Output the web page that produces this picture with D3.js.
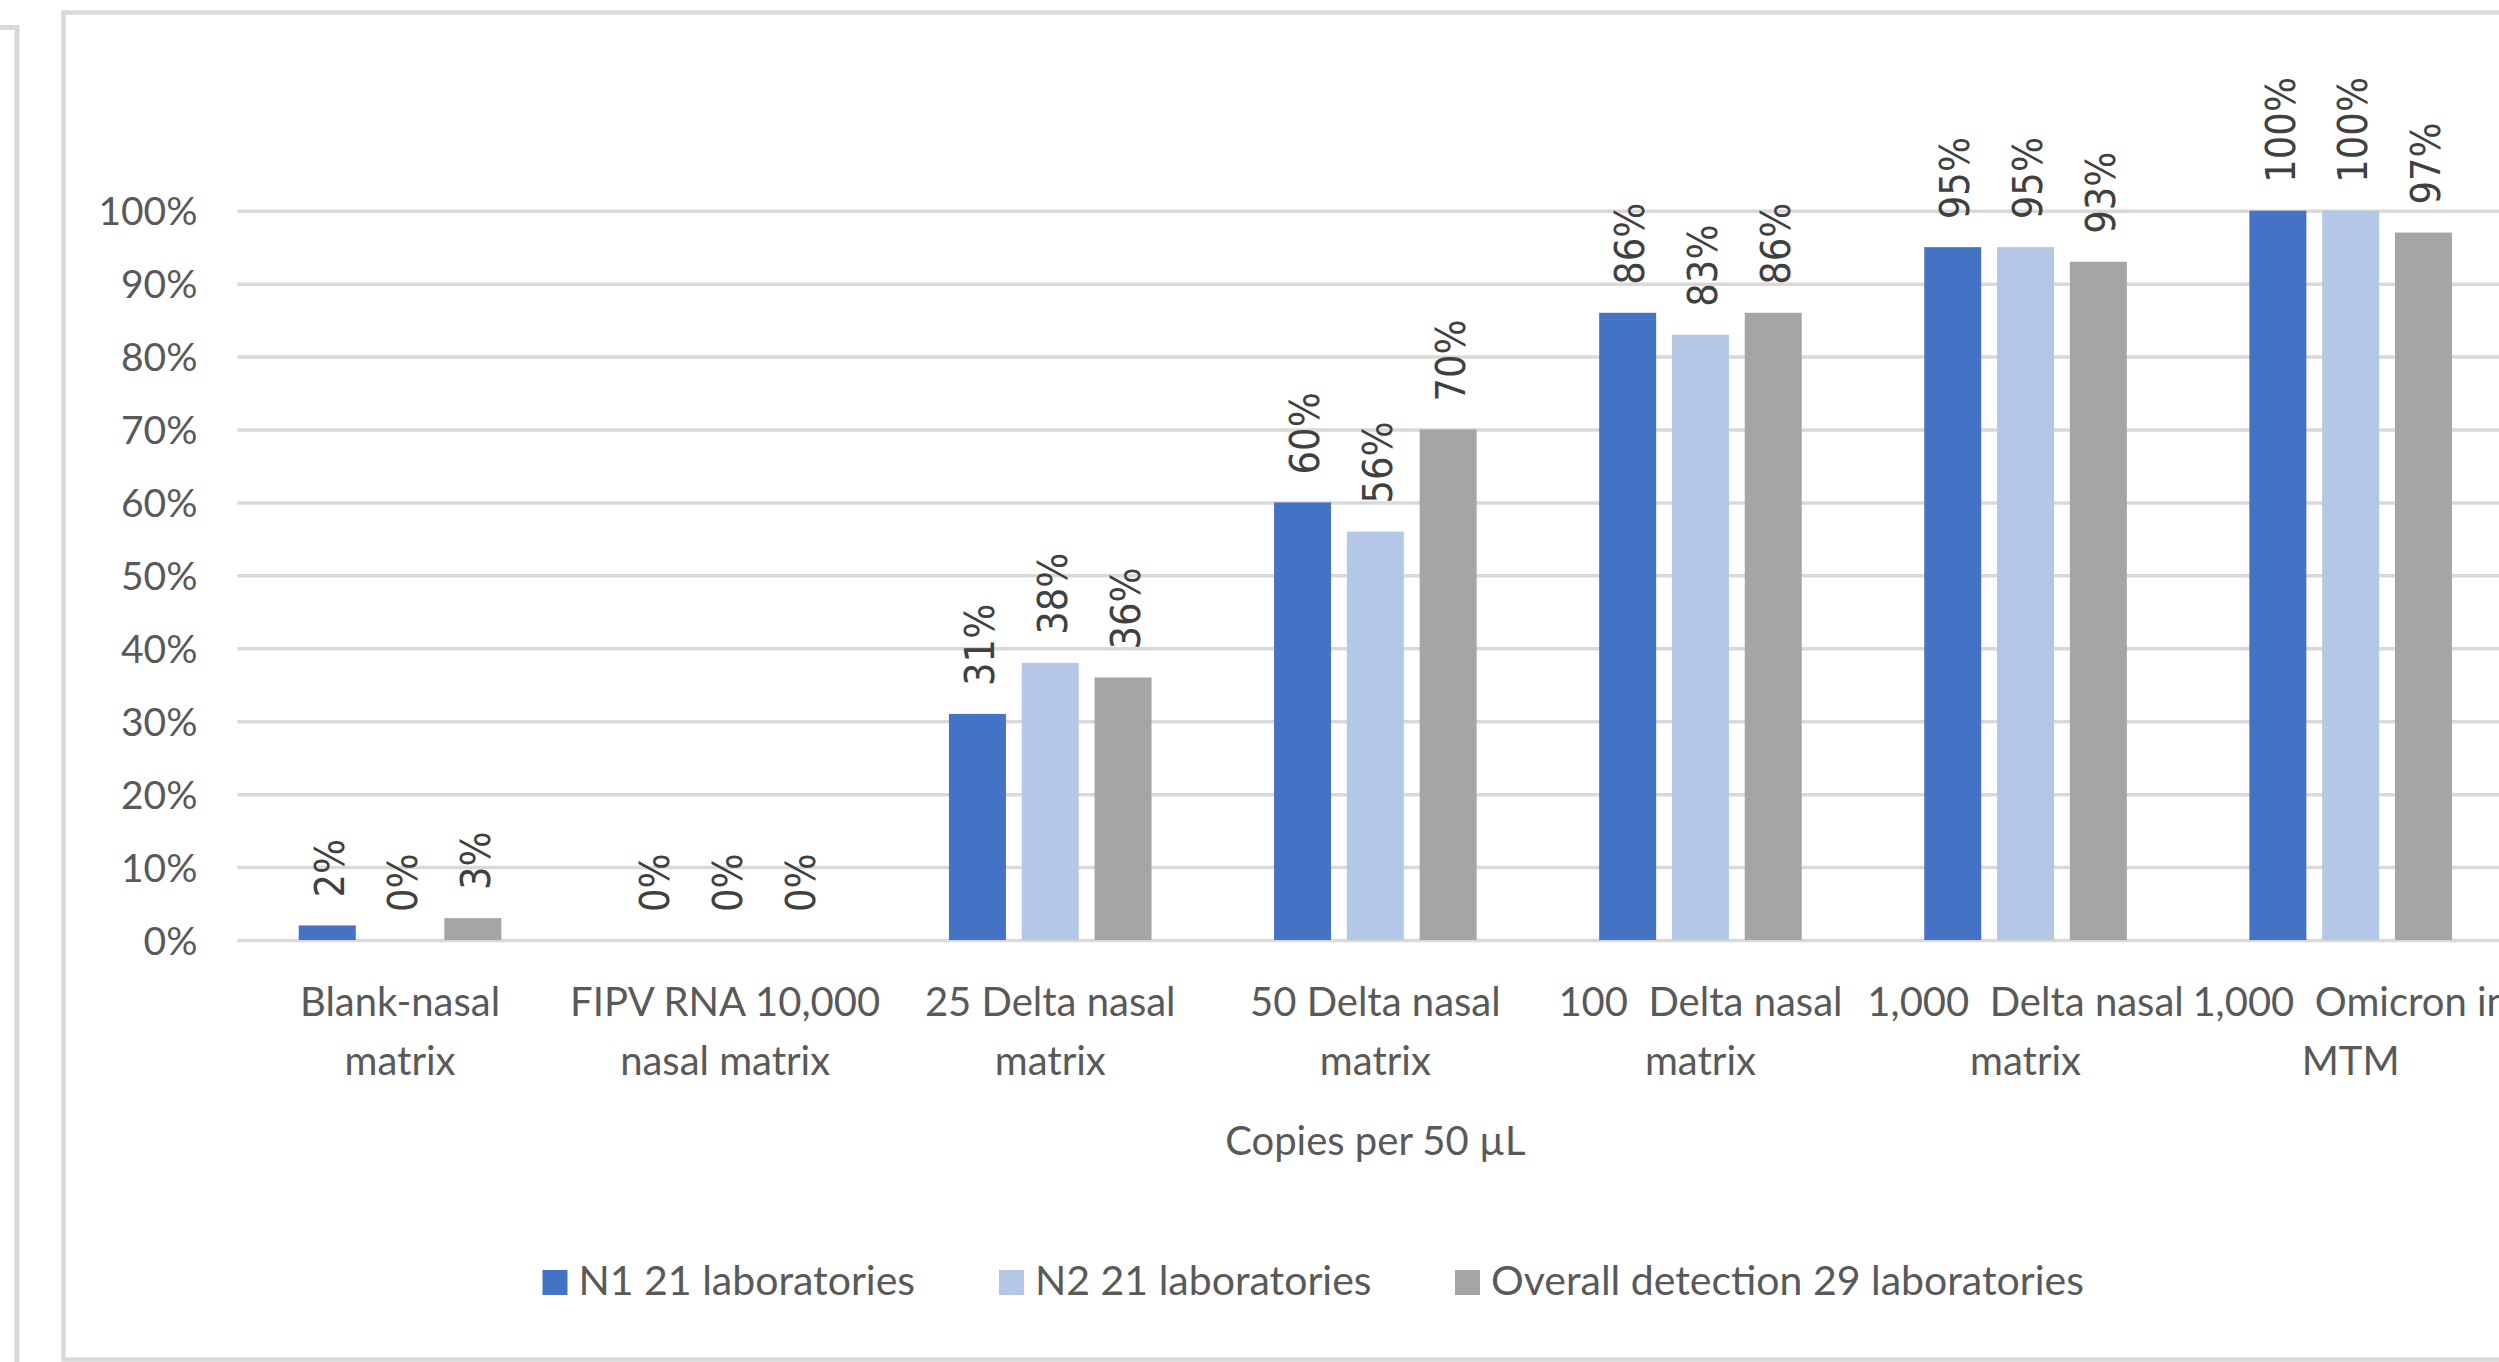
<!DOCTYPE html>
<html>
<head>
<meta charset="utf-8">
<script src="https://cdn.jsdelivr.net/npm/d3@7"></script>
<style>
  html, body { margin: 0; padding: 0; background: #ffffff; overflow: hidden; }
  svg { display: block; }
  text { white-space: pre; }
</style>
</head>
<body>
<script>
// Detection rate per sample type (copies per 50 µL)
const categories = [
  ["Blank-nasal", "matrix"],
  ["FIPV RNA 10,000", "nasal matrix"],
  ["25 Delta nasal", "matrix"],
  ["50 Delta nasal", "matrix"],
  ["100  Delta nasal", "matrix"],
  ["1,000  Delta nasal", "matrix"],
  ["1,000  Omicron in", "MTM"]
];
const seriesNames = ["N1 21 laboratories", "N2 21 laboratories", "Overall detection 29 laboratories"];
const n1Values = [0.02, 0.00, 0.31, 0.60, 0.86, 0.95, 1.00];
const n2Values = [0.00, 0.00, 0.38, 0.56, 0.83, 0.95, 1.00];
const overallValues = [0.03, 0.00, 0.36, 0.70, 0.86, 0.93, 0.97];
const yTicks = [0, 0.1, 0.2, 0.3, 0.4, 0.5, 0.6, 0.7, 0.8, 0.9, 1.0];
const axisTitle = "Copies per 50 µL";

const colors = ["#4472C4", "#B4C7E7", "#A5A5A5"];
const seriesValues = [n1Values, n2Values, overallValues];

const W = 2499, H = 1362;
const svg = d3.select("body").append("svg").attr("width", W).attr("height", H);

const labelFont = "Lato, 'Open Sans', sans-serif";
const valueFont = "'DejaVu Sans', Verdana, sans-serif";

// neighbouring frame on the far left
svg.append("path")
  .attr("d", "M-10,27.5 H17 V1370")
  .attr("fill", "none").attr("stroke", "#d9d9d9").attr("stroke-width", 5);

// chart area frame (extends past the right edge)
svg.append("rect")
  .attr("x", 63.5).attr("y", 12.5).attr("width", 2600).attr("height", 1347)
  .attr("fill", "#ffffff").attr("stroke", "#d9d9d9").attr("stroke-width", 4.5);

const plotLeft = 237.5;
const band = 325.1;
const x0 = d3.scaleBand()
  .domain(d3.range(categories.length))
  .range([plotLeft, plotLeft + band * categories.length])
  .paddingInner(0).paddingOuter(0);

const barW = 57, barStep = 72.8;
const x1 = d3.scaleBand()
  .domain(d3.range(seriesNames.length))
  .range([0, barStep * 3 - (barStep - barW)])
  .paddingInner((barStep - barW) / barStep)
  .paddingOuter(0);
const groupW = barStep * 3 - (barStep - barW);

const y = d3.scaleLinear().domain([0, 1]).range([940, 210.7]);

// gridlines
const yAxis = d3.axisLeft(y).tickValues(yTicks).tickSize(-(x0.range()[1] - plotLeft)).tickFormat(d3.format(".0%"));
const gy = svg.append("g").attr("transform", `translate(${plotLeft},0)`).call(yAxis);
gy.select(".domain").remove();
gy.selectAll(".tick line").attr("stroke", "#d9d9d9").attr("stroke-width", 3.5);
gy.selectAll(".tick text")
  .attr("x", -40)
  .attr("dy", "0.36em")
  .attr("fill", "#595959")
  .style("font-family", labelFont)
  .style("font-size", "39px");

// bars
const groups = svg.append("g").selectAll("g")
  .data(categories.map((c, i) => i))
  .join("g")
  .attr("transform", i => `translate(${x0(i) + (band - groupW) / 2},0)`);

groups.selectAll("rect")
  .data(i => seriesValues.map((vals, s) => ({ s, v: vals[i] })))
  .join("rect")
  .attr("x", d => x1(d.s))
  .attr("width", barW)
  .attr("y", d => y(d.v))
  .attr("height", d => y(0) - y(d.v))
  .attr("fill", d => colors[d.s]);

// rotated value labels
groups.selectAll("text.val")
  .data(i => seriesValues.map((vals, s) => ({ s, v: vals[i] })))
  .join("text")
  .attr("class", "val")
  .attr("transform", d => `translate(${x1(d.s) + barW / 2 + 2},${y(d.v) - 28}) rotate(-90) scale(1,1.1)`)
  .attr("text-anchor", "start")
  .attr("dy", "0.36em")
  .attr("fill", "#404040")
  .style("font-family", valueFont)
  .style("font-size", "37px")
  .text(d => d3.format(".0%")(d.v));

// category labels
const catG = svg.append("g");
categories.forEach((lines, i) => {
  const t = catG.append("text")
    .attr("text-anchor", "middle")
    .attr("fill", "#595959")
    .style("font-family", labelFont)
    .style("font-size", "40px");
  lines.forEach((ln, k) => {
    t.append("tspan")
      .attr("x", x0(i) + band / 2)
      .attr("y", 1016 + k * 59)
      .text(ln);
  });
});

// axis title
svg.append("text")
  .attr("x", plotLeft + band * categories.length / 2)
  .attr("y", 1155)
  .attr("text-anchor", "middle")
  .attr("fill", "#595959")
  .style("font-family", labelFont)
  .style("font-size", "40px")
  .text(axisTitle);

// legend
const legendX = [542.5, 999, 1455];
const legend = svg.append("g");
seriesNames.forEach((name, s) => {
  legend.append("rect")
    .attr("x", legendX[s]).attr("y", 1270)
    .attr("width", 25).attr("height", 25)
    .attr("fill", colors[s]);
  legend.append("text")
    .attr("x", legendX[s] + 36)
    .attr("y", 1295)
    .attr("fill", "#595959")
    .style("font-family", labelFont)
    .style("font-size", "41px")
    .text(name);
});
</script>
</body>
</html>
